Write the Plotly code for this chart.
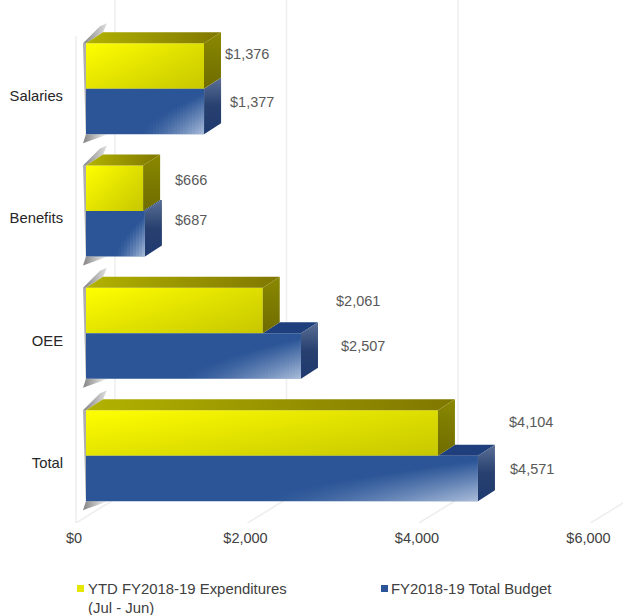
import plotly.graph_objects as go

categories = ["Salaries", "Benefits", "OEE", "Total"]
ytd_values = [1376, 666, 2061, 4104]
budget_values = [1377, 687, 2507, 4571]
x_ticks = [0, 2000, 4000, 6000]
x_tick_text = ["$0", "$2,000", "$4,000", "$6,000"]
ytd_name = "YTD FY2018-19 Expenditures<br>(Jul - Jun)"
budget_name = "FY2018-19 Total Budget"

# ---- layout geometry (pixels), converted to axis units by helpers ----
W, H = 623, 615
LEFT, BOTTOM = 74, 92
PX_PER_UNIT = 171.5 / 2000
CAT_PX = 122.3
FIRST_TICK_PX = 96
BASE_PX = 12
DEPTH_X, DEPTH_Y = 17, 11
BAR_PX = 45.5
STRIP_PX = 3


def ux(px):
    return px / PX_PER_UNIT


def uy(px):
    return px / CAT_PX


BASE = ux(BASE_PX)
YTD_CENTER = uy(-30)
BUD_CENTER = uy(15.5)
HALF = uy(BAR_PX / 2)
DX, DY = ux(DEPTH_X), uy(DEPTH_Y)

# label nudges from bar end (px right, px down from bar centre)
ytd_nudge = [(19, -12), (30, -8), (71, -10), (69, -11)]
bud_nudge = [(24, -10), (28, -14), (38, -10), (30, -9)]

fig = go.Figure()


def poly(xs, ys, colors=None, kind="vertical", solid=None):
    t = dict(x=list(xs) + [xs[0]], y=list(ys) + [ys[0]], mode="lines", fill="toself",
             line=dict(width=0), showlegend=False, hoverinfo="skip")
    if colors:
        t["fillgradient"] = dict(type=kind, colorscale=[[i / (len(colors) - 1), c] for i, c in enumerate(colors)])
    else:
        t["fillcolor"] = solid
    fig.add_trace(go.Scatter(**t))


# front faces as real bars
fig.add_trace(go.Bar(name=ytd_name.replace("<br>", " "), orientation="h", y=[i + YTD_CENTER for i in range(4)],
                     x=ytd_values, base=BASE, width=2 * HALF, marker=dict(color="#ffff00", line=dict(width=0)),
                     hoverinfo="x", showlegend=False))
fig.add_trace(go.Bar(name=budget_name, orientation="h", y=[i + BUD_CENTER for i in range(4)], x=budget_values,
                     base=BASE, width=2 * HALF, marker=dict(color="#2b5597", line=dict(width=0)),
                     hoverinfo="x", showlegend=False))

for i in range(4):
    # wall shadow beside each bar group
    top = i + YTD_CENTER - HALF
    bot = i + BUD_CENTER + HALF
    poly([BASE - ux(3), BASE, BASE], [top, top, bot + uy(6)], solid="rgba(120,120,120,0.6)")
    poly([BASE - ux(3), BASE, BASE + ux(17), BASE + ux(21), BASE + ux(14)],
         [top, top, top - uy(11), top - uy(20), top - uy(17)],
         colors=["rgba(100,100,100,0.8)", "rgba(100,100,100,0.2)"], kind="horizontal")
    poly([BASE - ux(3), BASE, BASE + ux(22)],
         [bot + uy(9), bot, bot],
         colors=["rgba(100,100,100,0.8)", "rgba(100,100,100,0.05)"], kind="horizontal")

    ye = BASE + ytd_values[i]
    be = BASE + budget_values[i]
    ycy = i + YTD_CENTER
    bcy = i + BUD_CENTER

    # budget top (only where visible beyond the YTD front) and side
    if be > ye:
        poly([ye, be, be + DX, ye + DX],
             [bcy - HALF, bcy - HALF, bcy - HALF - DY, bcy - HALF - DY], solid="#1f3f7c")
    poly([be, be + DX, be + DX, be],
         [bcy - HALF, bcy - HALF - DY, bcy + HALF - DY, bcy + HALF],
         colors=["#1f3a70", "#27406f", "#5a6f96"], kind="vertical")

    # budget highlight, lower right of the front face: pixel-aligned strips
    end_px = round(budget_values[i] * PX_PER_UNIT + BASE_PX)
    span_px = int(budget_values[i] * PX_PER_UNIT * 0.55)
    n = max(4, span_px // STRIP_PX)
    for k in range(n):
        um = (k + 0.5) / n
        a = 0.68 * um ** 1.3
        p1 = end_px - (n - 1 - k) * STRIP_PX
        p0 = p1 - STRIP_PX
        x0, x1 = ux(p0), ux(p1)
        h = 2 * HALF * (0.1 + 0.8 * um ** 0.8)
        poly([x0, x1, x1, x0], [bcy + HALF, bcy + HALF, bcy + HALF - h, bcy + HALF - h],
             colors=[f"rgba(230,238,250,{a:.3f})", "rgba(230,238,250,0)"], kind="vertical")

    # YTD shading on the front face
    poly([BASE, ye, ye, BASE], [ycy - HALF, ycy - HALF, ycy + HALF, ycy + HALF],
         colors=["rgba(60,60,0,0.0)", "rgba(60,60,0,0.17)"], kind="horizontal")
    poly([BASE, ye, ye, BASE], [ycy - HALF, ycy - HALF, ycy + HALF, ycy + HALF],
         colors=["rgba(60,60,0,0.14)", "rgba(60,60,0,0.0)"], kind="vertical")

    # YTD top and side
    poly([BASE, ye, ye + DX, BASE + DX],
         [ycy - HALF, ycy - HALF, ycy - HALF - DY, ycy - HALF - DY],
         colors=["#b2b200", "#7f7700"], kind="horizontal")
    poly([ye, ye + DX, ye + DX, ye],
         [ycy - HALF, ycy - HALF - DY, ycy + HALF - DY, ycy + HALF],
         colors=["#6f6c00", "#8a8800"], kind="vertical")

# walls and floor lines, from the axis ticks
GRID = "#eeeeee"
shapes = []
floor_y = (H - BOTTOM - FIRST_TICK_PX) / CAT_PX
back_y = floor_y - uy(24)
for j, t in enumerate(x_ticks):
    back = t + ux(41)
    if j < 3:
        shapes.append(dict(type="line", xref="x", yref="y", x0=back, x1=back, y0=uy(-96), y1=back_y,
                           line=dict(color=GRID, width=1.5), layer="below"))
    shapes.append(dict(type="line", xref="x", yref="y", x0=t + ux(2), x1=back, y0=floor_y, y1=back_y,
                       line=dict(color=GRID, width=1.5), layer="below"))
shapes.append(dict(type="line", xref="x", yref="y", x0=ux(2), x1=ux(2), y0=uy(-60), y1=floor_y,
                   line=dict(color=GRID, width=1.5), layer="below"))

annotations = []
for i in range(4):
    for vals, cy, nudge in ((ytd_values, YTD_CENTER, ytd_nudge), (budget_values, BUD_CENTER, bud_nudge)):
        annotations.append(dict(x=BASE + vals[i] + ux(nudge[i][0]), y=i + cy + uy(nudge[i][1]),
                                text="$" + format(vals[i], ","), showarrow=False, xanchor="left",
                                yanchor="middle", font=dict(size=14.5, color="#595959")))


# legend drawn in page pixels so the swatch sits on the first text line
def paper_x(px):
    return (px - LEFT) / (W - LEFT)


def paper_y(py):
    return (H - BOTTOM - py) / (H - BOTTOM)


for name, swatch_color, sw_px, text_px in ((ytd_name, "#e6e600", 77, 88), (budget_name, "#2b5597", 381, 391)):
    shapes.append(dict(type="rect", xref="paper", yref="paper", x0=paper_x(sw_px), x1=paper_x(sw_px + 7),
                       y0=paper_y(592), y1=paper_y(585), fillcolor=swatch_color, line=dict(width=0)))
    annotations.append(dict(xref="paper", yref="paper", x=paper_x(text_px), y=paper_y(580), text=name,
                            showarrow=False, xanchor="left", yanchor="top", align="left", xshift=-1, yshift=0,
                            borderpad=0, font=dict(size=14.9, color="#404040")))

fig.update_layout(
    width=W, height=H, autosize=False, barmode="overlay", template="none", showlegend=False,
    paper_bgcolor="white", plot_bgcolor="white",
    margin=dict(l=LEFT, r=0, t=0, b=BOTTOM, pad=0),
    font=dict(family="Liberation Sans, Arial, sans-serif", color="#404040"),
    xaxis=dict(range=[0, ux(W - LEFT)], tickvals=x_ticks, ticktext=x_tick_text, showgrid=False, zeroline=False,
               showline=False, ticks="outside", ticklen=2, tickcolor="rgba(0,0,0,0)",
               tickfont=dict(size=14.5, color="#404040")),
    yaxis=dict(range=[(H - BOTTOM - FIRST_TICK_PX) / CAT_PX, -FIRST_TICK_PX / CAT_PX], tickvals=list(range(4)),
               ticktext=categories, showgrid=False, zeroline=False, showline=False, ticks="outside", ticklen=7,
               tickcolor="rgba(0,0,0,0)", tickfont=dict(size=14.8, color="#262626")),
    shapes=shapes, annotations=annotations,
)
fig.write_html("out.html", post_script="document.body.style.margin='0';", config=dict(displayModeBar=False))
